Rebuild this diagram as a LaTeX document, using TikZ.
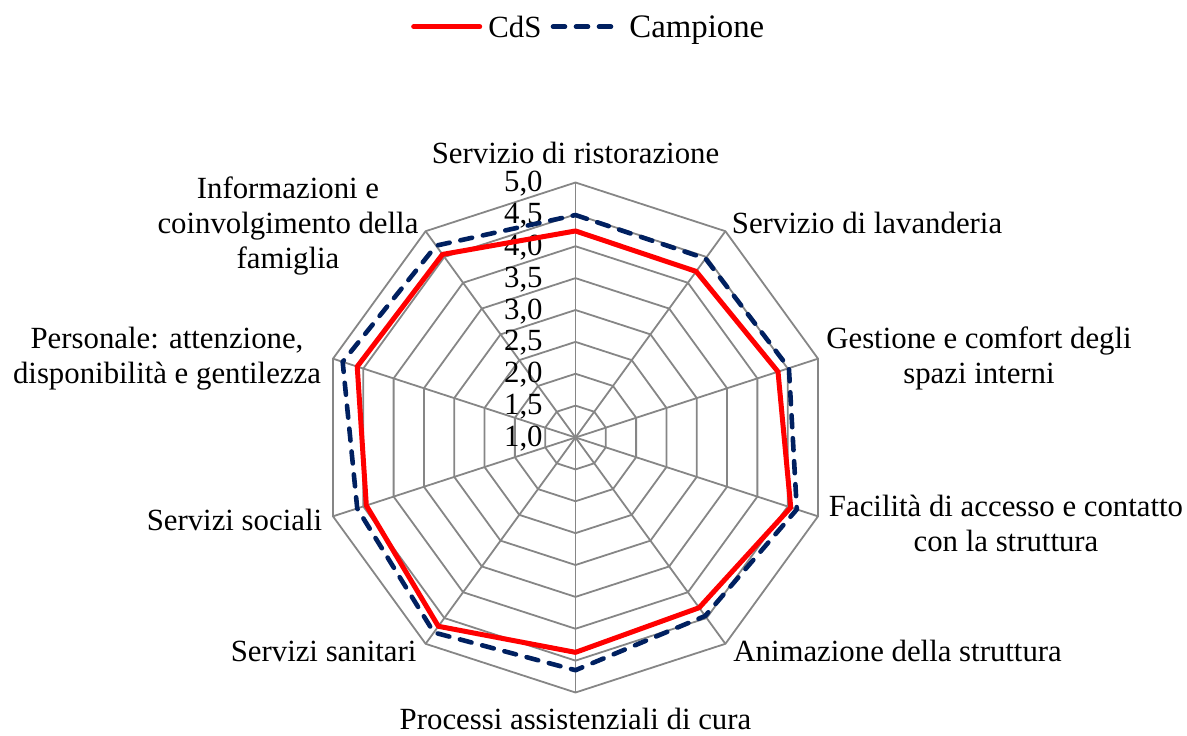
\documentclass[tikz,border=0pt]{standalone}
\usepackage{fontspec}
\setmainfont{Liberation Serif}
\usetikzlibrary{calc}
\definecolor{campblue}{RGB}{0,32,96}
\definecolor{gridgray}{RGB}{134,134,134}
\tikzset{gridline/.style={
  draw=gridgray,
  line width=.9pt}}
\tikzset{cdsline/.style={
  draw=red,
  line width=2.5pt,
  line join=round}}
\tikzset{campline/.style={
  draw=campblue,
  line width=2.3pt,
  line cap=round,
  line join=round,
  dash pattern=on 6pt off 5.5pt}}
\tikzset{axlabel/.style={
  font=\fontsize{15.4}{17.5}\selectfont,
  inner sep=0pt,
  align=center}}

\begin{document}
\begin{tikzpicture}[x=.5pt,y=.5pt]

  \useasboundingbox (-575.5,-297.5) rectangle (611.5,437.5);

  %%%% Grid: rings and spokes %%%%
  \coordinate (c) at (0,0);
  \foreach \i in {0,...,9}{
    \coordinate (ax-\i) at (90-36*\i:255);
    \draw[gridline] (c) -- (ax-\i);
  }
  \foreach \k in {1,...,8}{
    \draw[gridline] (90:31.875*\k)
      \foreach \i in {1,...,9}{ -- (90-36*\i:31.875*\k)} -- cycle;
  }

  %% Scale values
  \foreach \k/\t in {0/{1,0},1/{1,5},2/{2,0},3/{2,5},4/{3,0},5/{3,5},6/{4,0},7/{4,5},8/{5,0}}{
    \node[axlabel,anchor=base east] (val-\k) at (-32.5,31.875*\k-9) {\t};
  }

  %%%% Data %%%%
  \foreach \v [count=\i from 0] in {4.24,4.22,4.34,4.55,4.30,4.37,4.66,4.45,4.60,4.55}{
    \coordinate (cds-\i) at (90-36*\i:63.75*\v-63.75);
  }
  \foreach \v [count=\i from 0] in {4.49,4.47,4.52,4.65,4.46,4.65,4.78,4.60,4.84,4.72}{
    \coordinate (camp-\i) at (90-36*\i:63.75*\v-63.75);
  }
  \draw[campline] (camp-0) \foreach \i in {1,...,9}{ -- (camp-\i)} -- cycle;
  \draw[cdsline] (cds-0) \foreach \i in {1,...,9}{ -- (cds-\i)} -- cycle;

  %%%% Axis labels %%%%
  \node[axlabel,anchor=base] (lab-0) at (0,274) {Servizio di ristorazione};
  \node[axlabel,anchor=base west] (lab-1) at (156,204) {Servizio di lavanderia};
  \node[axlabel] (lab-2) at (403.5,79) {Gestione e comfort degli\\spazi interni};
  \node[axlabel] (lab-3) at (430.5,-85.5) {Facilità di accesso e contatto\\con la struttura};
  \node[axlabel,anchor=base west] (lab-4) at (157.5,-224) {Animazione della struttura};
  \node[axlabel,anchor=base] (lab-5) at (0,-292) {Processi assistenziali di cura};
  \node[axlabel,anchor=base east] (lab-6) at (-158.7,-224) {Servizi sanitari};
  \node[axlabel,anchor=base east] (lab-7) at (-253,-92.5) {Servizi sociali};
  \node[axlabel] (lab-8) at (-408.5,79) {Personale: attenzione,\\disponibilità e gentilezza};
  \node[axlabel] (lab-9) at (-287.5,211.7) {Informazioni e\\coinvolgimento della\\famiglia};

  %%%% Legend %%%%
  \coordinate (leg-cds-a) at (-161.8,410.8);
  \coordinate (leg-cds-b) at (-95.8,410.8);
  \draw[cdsline,line cap=round] (leg-cds-a) -- (leg-cds-b);
  \node[axlabel,anchor=base west] (leg-cds) at (-87.5,400) {CdS};
  \coordinate (leg-camp-a) at (-22.5,410.8);
  \coordinate (leg-camp-b) at (36.5,410.8);
  \draw[campline] (leg-camp-a) -- (leg-camp-b);
  \node[axlabel,anchor=base west,font=\fontsize{16.4}{18}\selectfont] (leg-camp) at (53.5,400) {Campione};

\end{tikzpicture}
\end{document}
